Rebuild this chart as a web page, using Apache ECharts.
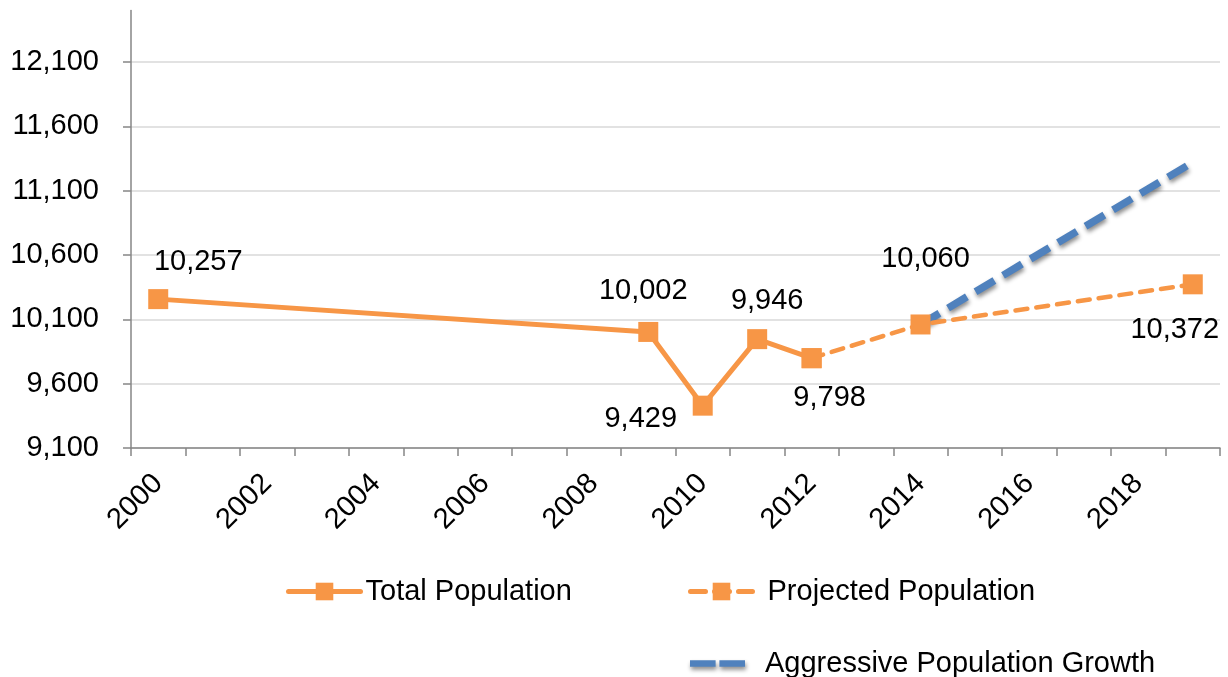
<!DOCTYPE html>
<html>
<head>
<meta charset="utf-8">
<script src="https://cdn.jsdelivr.net/npm/echarts@6/dist/echarts.min.js"></script>
<style>
html,body{margin:0;padding:0;background:#fff;}
#chart{width:1228px;height:677px;}
</style>
</head>
<body>
<div id="chart"></div>
<script>
// ---- data ----
var years = ['2000','2001','2002','2003','2004','2005','2006','2007','2008','2009',
             '2010','2011','2012','2013','2014','2015','2016','2017','2018','2019'];
var totalPopulation = [10257,null,null,null,null,null,null,null,null,10002,
                       9429,9946,9798,null,null,null,null,null,null,null];
var projectedPopulation = [null,null,null,null,null,null,null,null,null,null,
                           null,null,9798,null,10060,null,null,null,null,10372];
var aggressiveGrowth = [null,null,null,null,null,null,null,null,null,null,
                        null,null,null,null,10060,null,null,null,null,11320];
var yTicks = [9100,9600,10100,10600,11100,11600,12100];
var seriesNames = ['Total Population','Projected Population','Aggressive Population Growth'];

// ---- presentation ----
var FONT = '"Liberation Sans", Arial, sans-serif';
var FS = 29;
var ORANGE = '#F79646';
var BLUE = '#4F81BD';
var fmt = function (v) { return Number(v).toLocaleString('en-US'); };

// label offsets keyed by category index (presentation only)
var totalLabelOffsets = {0:[40,-37], 9:[-5,-41], 10:[-62,13], 11:[10,-38], 12:[18,40]};
var projLabelOffsets = {14:[5,-65], 19:[-18,46]};

function buildData(values, offsets) {
  return values.map(function (v, i) {
    if (v === null) return null;
    var o = offsets[i];
    if (!o) return {value: v, label: {show: false}};
    return {value: v, label: {show: true, position: 'inside', offset: o}};
  });
}

var labelStyle = {color: '#000', fontSize: FS, fontFamily: FONT, formatter: function (p) { return fmt(p.value); }};
function legendText(padLeft) {
  return {color: '#000', fontSize: FS, fontFamily: FONT, padding: [0, 0, 0, padLeft]};
}

var chart = echarts.init(document.getElementById('chart'), null, {renderer: 'canvas'});
chart.setOption({
  animation: false,
  backgroundColor: '#fff',
  textStyle: {fontFamily: FONT},
  grid: {left: 131, right: 8, top: 10.5, bottom: 229, containLabel: false},
  xAxis: {
    type: 'category',
    data: years,
    boundaryGap: true,
    axisLine: {show: true, lineStyle: {color: '#868686', width: 1.5}},
    axisTick: {show: true, interval: 0, length: 8, lineStyle: {color: '#868686', width: 1.5}},
    axisLabel: {interval: 1, rotate: 45, margin: 31, color: '#000', fontSize: FS, fontFamily: FONT},
    splitLine: {show: false}
  },
  yAxis: {
    type: 'value',
    min: 9100,
    max: 12500,
    interval: 500,
    axisLine: {show: true, lineStyle: {color: '#868686', width: 1.5}},
    axisTick: {show: true, length: 8, customValues: yTicks, lineStyle: {color: '#868686', width: 1.5}},
    axisLabel: {customValues: yTicks, margin: 32, color: '#000', fontSize: FS, fontFamily: FONT,
      formatter: function (v) { return fmt(v); }},
    splitLine: {show: true, lineStyle: {color: '#D9D9D9', width: 1.5}}
  },
  legend: [
    {data: [seriesNames[0]], left: 286, top: 577, padding: 0, itemWidth: 72, itemHeight: 22, itemGap: 0,
     lineStyle: {width: 5, color: ORANGE, type: 'solid'},
     textStyle: legendText(0)},
    {data: [seriesNames[1]], left: 688, top: 577, padding: 0, itemWidth: 62, itemHeight: 22, itemGap: 0,
     lineStyle: {width: 5, color: ORANGE, type: [15, 9], cap: 'round'},
     textStyle: legendText(10)},
    {data: [{name: seriesNames[2], icon: 'path://M0,0H27V7H0Z M31,0H58V7H31Z'}],
     left: 690, top: 649, padding: 0, itemWidth: 55, itemHeight: 7, itemGap: 0,
     itemStyle: {color: BLUE, shadowColor: 'rgba(0,0,0,0.45)', shadowBlur: 4, shadowOffsetX: 1, shadowOffsetY: 3},
     textStyle: legendText(15)}
  ],
  series: [
    {
      name: seriesNames[2],
      type: 'line',
      z: 1,
      data: aggressiveGrowth,
      connectNulls: true,
      symbol: 'none',
      lineStyle: {color: BLUE, width: 7.5, type: [22, 10], cap: 'butt',
        shadowColor: 'rgba(0,0,0,0.45)', shadowBlur: 4, shadowOffsetX: 1, shadowOffsetY: 3},
      itemStyle: {color: BLUE},
      label: {show: false}
    },
    {
      name: seriesNames[0],
      type: 'line',
      z: 3,
      data: buildData(totalPopulation, totalLabelOffsets),
      connectNulls: true,
      symbol: 'rect',
      symbolSize: 20,
      showAllSymbol: true,
      lineStyle: {color: ORANGE, width: 5, cap: 'round', join: 'round'},
      itemStyle: {color: ORANGE},
      label: labelStyle,
      emphasis: {disabled: true}
    },
    {
      name: seriesNames[1],
      type: 'line',
      z: 2,
      data: buildData(projectedPopulation, projLabelOffsets),
      connectNulls: true,
      symbol: 'rect',
      symbolSize: 20,
      showAllSymbol: true,
      lineStyle: {color: ORANGE, width: 4.5, type: [12, 9], cap: 'round'},
      itemStyle: {color: ORANGE},
      label: labelStyle,
      emphasis: {disabled: true}
    }
  ]
});
</script>
</body>
</html>
